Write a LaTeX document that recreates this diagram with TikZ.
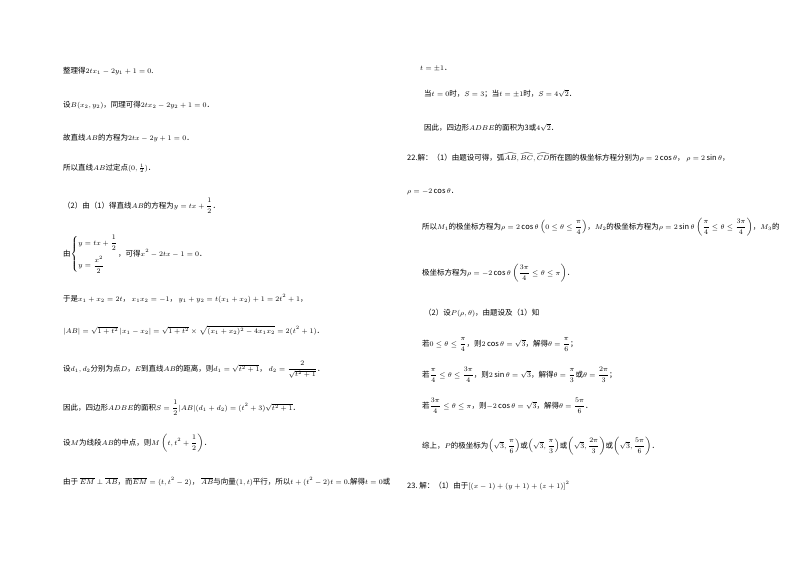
\documentclass[tikz,border=0pt]{standalone}
\usepackage{amsmath}
\usepackage{fontspec}
\setmainfont{Noto Sans CJK SC}
\begin{document}
\begin{tikzpicture}[x=1pt,y=-1pt,
  txt/.style={anchor=base west,inner sep=0pt,font=\fontsize{7.5}{9}\selectfont}]
\useasboundingbox (0,0) rectangle (800,565);
\node[txt] (l1) at (63,73) {整理得$2tx_1-2y_1+1=0$.};
\node[txt] (l2) at (63,107) {设$B(x_2,y_2)$，同理可得$2tx_2-2y_2+1=0$．};
\node[txt] (l3) at (63,140) {故直线$AB$的方程为$2tx-2y+1=0$．};
\node[txt] (l4) at (63,170) {所以直线$AB$过定点$(0,\frac12)$．};
\node[txt] (l5) at (63,208) {（2）由（1）得直线$AB$的方程为$y=tx+\dfrac12$．};
\node[txt] (l6) at (63,256) {由$\left\{\begin{aligned}&y=tx+\dfrac12\\[2pt]&y=\dfrac{x^2}{2}\end{aligned}\right.$，可得$x^2-2tx-1=0$．};
\node[txt] (l7) at (63,301) {于是$x_1+x_2=2t$，\ $x_1x_2=-1$，\ $y_1+y_2=t(x_1+x_2)+1=2t^2+1$，};
\node[txt] (l8) at (63,333) {$|AB|=\sqrt{1+t^2}\,|x_1-x_2|=\sqrt{1+t^2}\times\sqrt{(x_1+x_2)^2-4x_1x_2}=2(t^2+1)$．};
\node[txt] (l9) at (63,371) {设$d_1,d_2$分别为点$D$，$E$到直线$AB$的距离，则$d_1=\sqrt{t^2+1}$，\ $d_2=\dfrac{2}{\sqrt{t^2+1}}$．};
\node[txt] (l10) at (63,410) {因此，四边形$ADBE$的面积$S=\dfrac12|AB|(d_1+d_2)=(t^2+3)\sqrt{t^2+1}$．};
\node[txt] (l11) at (63,445) {设$M$为线段$AB$的中点，则$M\left(t,t^2+\dfrac12\right)$．};
\node[txt] (l12) at (63,484) {由于 $\overline{EM}\perp\overline{AB}$，而$\overline{EM}=(t,t^2-2)$，\ $\overline{AB}$与向量$(1,t)$平行，所以$t+(t^2-2)t=0$.解得$t=0$或};
\node[txt] (r1) at (420,70) {$t=\pm1$．};
\node[txt] (r2) at (424,96) {当$t=0$时，$S=3$；当$t=\pm1$时，$S=4\sqrt2$．};
\node[txt] (r3) at (424,130) {因此，四边形$ADBE$的面积为3或$4\sqrt2$．};
\node[txt] (r4) at (407,160) {22.解：（1）由题设可得，弧$\widehat{AB},\widehat{BC},\widehat{CD}$所在圆的极坐标方程分别为$\rho=2\cos\theta$，\ $\rho=2\sin\theta$，};
\node[txt] (r5) at (407,193) {$\rho=-2\cos\theta$．};
\node[txt] (r6) at (422,229) {所以$M_1$的极坐标方程为$\rho=2\cos\theta\left(0\le\theta\le\dfrac{\pi}{4}\right)$，$M_2$的极坐标方程为$\rho=2\sin\theta\left(\dfrac{\pi}{4}\le\theta\le\dfrac{3\pi}{4}\right)$，$M_3$的};
\node[txt] (r7) at (422,275) {极坐标方程为$\rho=-2\cos\theta\left(\dfrac{3\pi}{4}\le\theta\le\pi\right)$．};
\node[txt] (r8) at (424,315) {（2）设$P(\rho,\theta)$，由题设及（1）知};
\node[txt] (r9) at (422,346) {若$0\le\theta\le\dfrac{\pi}{4}$，则$2\cos\theta=\sqrt3$，解得$\theta=\dfrac{\pi}{6}$；};
\node[txt] (r10) at (422,377) {若$\dfrac{\pi}{4}\le\theta\le\dfrac{3\pi}{4}$，则$2\sin\theta=\sqrt3$，解得$\theta=\dfrac{\pi}{3}$或$\theta=\dfrac{2\pi}{3}$；};
\node[txt] (r11) at (422,408) {若$\dfrac{3\pi}{4}\le\theta\le\pi$，则$-2\cos\theta=\sqrt3$，解得$\theta=\dfrac{5\pi}{6}$．};
\node[txt] (r12) at (422,448) {综上，$P$的极坐标为$\left(\sqrt3,\dfrac{\pi}{6}\right)$或$\left(\sqrt3,\dfrac{\pi}{3}\right)$或$\left(\sqrt3,\dfrac{2\pi}{3}\right)$或$\left(\sqrt3,\dfrac{5\pi}{6}\right)$．};
\node[txt] (r13) at (407,488) {23.\ 解：（1）由于$[(x-1)+(y+1)+(z+1)]^2$};
\end{tikzpicture}
\end{document}
